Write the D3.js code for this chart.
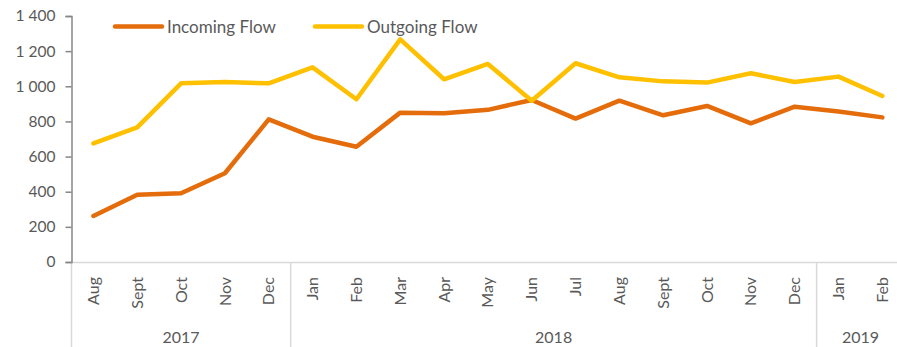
<!DOCTYPE html>
<html>
<head>
<meta charset="utf-8">
<script src="https://cdn.jsdelivr.net/npm/d3@7/dist/d3.min.js"></script>
<style>
  html, body { margin: 0; padding: 0; background: #fff; }
  svg { display: block; font-family: "Lato", "Open Sans", sans-serif; }
</style>
</head>
<body>
<svg id="chart" width="897" height="347"></svg>
<script>
// Monthly flows, Aug 2017 – Feb 2019
const months = ["Aug","Sept","Oct","Nov","Dec","Jan","Feb","Mar","Apr","May","Jun","Jul","Aug","Sept","Oct","Nov","Dec","Jan","Feb"];
const years = ["2017","2018","2019"];
const yearSizes = [5, 12, 2];
const incomingFlow = [262, 383, 391, 505, 812, 713, 656, 850, 846, 866, 922, 816, 918, 835, 888, 789, 884, 857, 823];
const outgoingFlow = [675, 766, 1017, 1024, 1017, 1108, 926, 1267, 1040, 1127, 918, 1131, 1051, 1028, 1021, 1074, 1024, 1055, 945];
const yTicks = [0, 200, 400, 600, 800, 1000, 1200, 1400];
const seriesNames = ["Incoming Flow", "Outgoing Flow"];

const colors = { incoming: "#E46C0A", outgoing: "#FFC000" };
const textColor = "#595959";

const svg = d3.select("#chart");
const plotLeft = 71.5, plotTop = 16, plotBottom = 262;
const step = 43.83;

const x = d3.scaleBand()
  .domain(d3.range(months.length))
  .range([plotLeft, plotLeft + step * months.length])
  .paddingInner(0).paddingOuter(0);

const y = d3.scaleLinear().domain([0, 1400]).range([plotBottom, plotTop]);

const locale = d3.formatLocale({ decimal: ".", thousands: " ", grouping: [3], currency: ["", ""] });
const fmt = locale.format(",");

// Category axis baseline
svg.append("line")
  .attr("x1", plotLeft).attr("x2", 897)
  .attr("y1", plotBottom + 0.5).attr("y2", plotBottom + 0.5)
  .attr("stroke", "#d9d9d9").attr("stroke-width", 1.5);

// Year group separators
let acc = 0;
const bounds = [0];
yearSizes.forEach(n => { acc += n; bounds.push(acc); });
bounds.forEach(b => {
  const bx = b < months.length ? x(b) : x(months.length - 1) + x.bandwidth();
  svg.append("line")
    .attr("x1", bx).attr("x2", bx)
    .attr("y1", plotBottom).attr("y2", 347)
    .attr("stroke", "#d9d9d9").attr("stroke-width", 1.5);
});

// Year labels centred under their groups
years.forEach((yr, i) => {
  const x0 = x(bounds[i]);
  const x1 = x(bounds[i + 1] - 1) + x.bandwidth();
  svg.append("text")
    .attr("x", (x0 + x1) / 2).attr("y", 343)
    .attr("text-anchor", "middle")
    .attr("fill", textColor).attr("font-size", 16)
    .text(yr);
});

// Month labels, rotated
svg.append("g").selectAll("text")
  .data(months)
  .join("text")
  .attr("transform", (d, i) => `translate(${x(i) + x.bandwidth() / 2},277) rotate(-90)`)
  .attr("text-anchor", "end")
  .attr("dy", "0.35em")
  .attr("fill", textColor).attr("font-size", 16)
  .text(d => d);

// Value axis
const yAxis = d3.axisLeft(y).tickValues(yTicks).tickFormat(fmt).tickSize(6).tickPadding(10);
const gy = svg.append("g").attr("transform", `translate(${plotLeft},0)`).call(yAxis);
gy.select(".domain").attr("stroke", "#868686").attr("stroke-width", 1.5);
gy.selectAll(".tick line").attr("stroke", "#868686").attr("stroke-width", 1.5);
gy.selectAll(".tick text").attr("fill", textColor).attr("font-size", 15.5)
  .attr("font-family", "Lato, 'Open Sans', sans-serif");

// Series lines
const line = d3.line()
  .x((d, i) => x(i) + x.bandwidth() / 2)
  .y(d => y(d));

[[incomingFlow, colors.incoming], [outgoingFlow, colors.outgoing]].forEach(([vals, c]) => {
  svg.append("path")
    .datum(vals)
    .attr("d", line)
    .attr("fill", "none")
    .attr("stroke", c)
    .attr("stroke-width", 4.5)
    .attr("stroke-linejoin", "round")
    .attr("stroke-linecap", "round");
});

// Legend
const legendItems = [
  { name: seriesNames[0], color: colors.incoming, x: 115 },
  { name: seriesNames[1], color: colors.outgoing, x: 315 }
];
const lg = svg.append("g");
legendItems.forEach(it => {
  lg.append("line")
    .attr("x1", it.x).attr("x2", it.x + 47)
    .attr("y1", 26.5).attr("y2", 26.5)
    .attr("stroke", it.color).attr("stroke-width", 4.5)
    .attr("stroke-linecap", "round");
  lg.append("text")
    .attr("x", it.x + 52).attr("y", 32.5)
    .attr("fill", textColor).attr("font-size", 17)
    .text(it.name);
});
</script>
</body>
</html>
